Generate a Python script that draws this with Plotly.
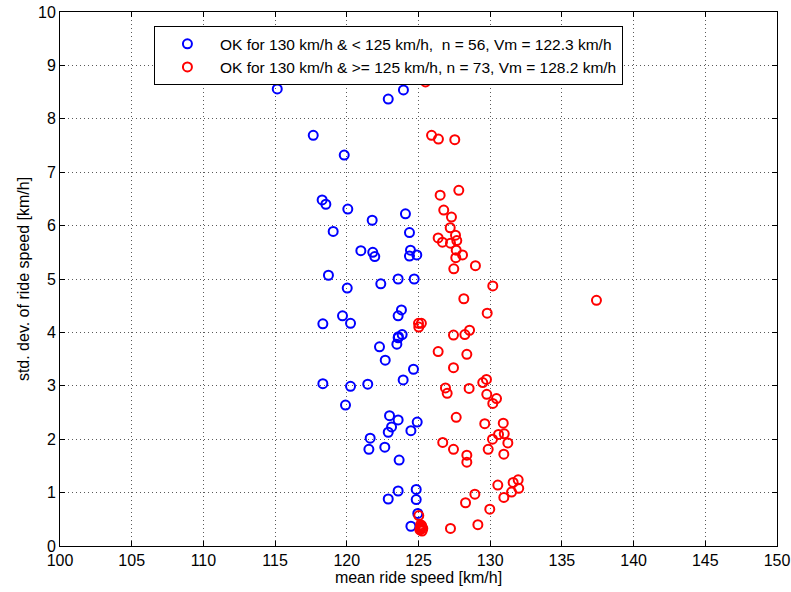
import plotly.graph_objects as go

blue_x = [115.15, 117.66, 119.82, 118.28, 118.54, 120.07, 119.05, 118.72, 120.03, 119.70,
          118.33, 120.26, 118.33, 120.26, 119.91, 122.89, 123.95, 121.77, 124.09, 124.37,
          120.98, 121.81, 121.95, 124.44, 124.37, 124.88, 122.37, 123.58, 124.70, 123.81,
          123.58, 123.86, 123.58, 123.49, 122.28, 122.68, 124.65, 123.93, 121.46, 122.98,
          123.58, 123.12, 122.89, 124.47, 124.91, 121.63, 121.54, 122.65, 123.65, 123.58,
          122.89, 124.84, 124.84, 124.95, 124.47, 123.60]
blue_y = [8.56, 7.69, 7.32, 6.48, 6.40, 6.31, 5.89, 5.07, 4.83, 4.31,
          4.16, 4.17, 3.04, 2.99, 2.64, 8.37, 8.54, 6.10, 6.22, 5.87,
          5.53, 5.50, 5.42, 5.54, 5.43, 5.45, 4.91, 5.00, 5.00, 4.42,
          4.31, 3.96, 3.90, 3.78, 3.73, 3.48, 3.31, 3.11, 3.03, 2.44,
          2.36, 2.23, 2.13, 2.16, 2.32, 2.02, 1.81, 1.85, 1.61, 1.03,
          0.88, 1.06, 0.87, 0.61, 0.37, 3.92]

red_x = [125.49, 125.91, 126.39, 127.53, 127.81, 126.51, 126.76, 127.30, 127.21, 127.58,
         126.37, 126.67, 127.67, 127.23, 127.63, 128.07, 127.60, 128.97, 127.46, 130.18,
         128.16, 129.79, 125.00, 125.20, 125.02, 128.56, 128.23, 127.44, 126.37, 128.37,
         127.44, 129.74, 129.48, 126.88, 128.53, 127.00, 129.76, 130.44, 130.18, 127.63,
         129.62, 130.91, 130.58, 130.98, 130.16, 131.23, 126.69, 127.44, 129.86, 128.37,
         128.37, 130.95, 130.53, 131.95, 131.60, 131.99, 131.49, 130.95, 128.93, 128.28,
         129.97, 125.02, 129.14, 127.23, 137.41, 125.10, 125.20, 125.30, 125.15, 125.25,
         125.18, 125.22, 125.12]
red_y = [8.69, 7.69, 7.62, 7.61, 6.66, 6.57, 6.29, 6.16, 5.96, 5.82,
         5.77, 5.69, 5.72, 5.67, 5.54, 5.45, 5.40, 5.25, 5.19, 4.87,
         4.63, 4.36, 4.17, 4.17, 4.10, 4.04, 3.96, 3.95, 3.64, 3.59,
         3.34, 3.12, 3.06, 2.96, 2.95, 2.86, 2.84, 2.76, 2.67, 2.41,
         2.29, 2.30, 2.09, 2.10, 2.00, 1.93, 1.94, 1.81, 1.81, 1.70,
         1.57, 1.72, 1.14, 1.24, 1.19, 1.08, 1.01, 0.91, 0.97, 0.81,
         0.69, 0.57, 0.40, 0.33, 4.60, 0.30, 0.36, 0.33, 0.40, 0.28,
         0.34, 0.38, 0.32]

blue_name = "OK for 130 km/h & < 125 km/h,  n = 56, Vm = 122.3 km/h"
red_name = "OK for 130 km/h & >= 125 km/h, n = 73, Vm = 128.2 km/h"

x_ticks = [100, 105, 110, 115, 120, 125, 130, 135, 140, 145, 150]
y_ticks = [0, 1, 2, 3, 4, 5, 6, 7, 8, 9, 10]

FONT = "Arial, Liberation Sans, sans-serif"

fig = go.Figure()
fig.add_trace(go.Scatter(x=blue_x, y=blue_y, mode="markers", name=blue_name,
                         marker=dict(symbol="circle-open", size=9, color="#0000ff",
                                     line=dict(width=2, color="#0000ff"))))
fig.add_trace(go.Scatter(x=red_x, y=red_y, mode="markers", name=red_name,
                         marker=dict(symbol="circle-open", size=9, color="#ff0000",
                                     line=dict(width=2, color="#ff0000"))))

axis_common = dict(
    showline=True, linecolor="black", linewidth=1, mirror="ticks",
    ticks="inside", ticklen=5, tickcolor="black", automargin=False,
    showgrid=True, gridcolor="rgb(90,90,90)", griddash="1px,3px", gridwidth=1,
    zeroline=False, tickfont=dict(family=FONT, size=16, color="black"),
)

fig.update_layout(
    width=791, height=592,
    margin=dict(l=60, r=14, t=12, b=46),
    paper_bgcolor="white", plot_bgcolor="white",
    font=dict(family=FONT, size=16, color="black"),
    xaxis=dict(range=[100, 150], tickvals=x_ticks, ticktext=[str(v) for v in x_ticks],
               title=dict(text="mean ride speed [km/h]", font=dict(family=FONT, size=16), standoff=2),
               **axis_common),
    yaxis=dict(range=[0, 10], tickvals=y_ticks, ticktext=[str(v) for v in y_ticks],
               title=dict(text="std. dev. of ride speed [km/h]", font=dict(family=FONT, size=16), standoff=4),
               **axis_common),
    legend=dict(x=0.131, y=0.9734, xanchor="left", yanchor="top",
                bgcolor="white", bordercolor="black", borderwidth=1,
                font=dict(family=FONT, size=15.5), itemwidth=55, tracegroupgap=0),
    showlegend=True,
)

fig.write_html("out.html", config={"displayModeBar": False},
               post_script="document.body.style.margin='0';")
